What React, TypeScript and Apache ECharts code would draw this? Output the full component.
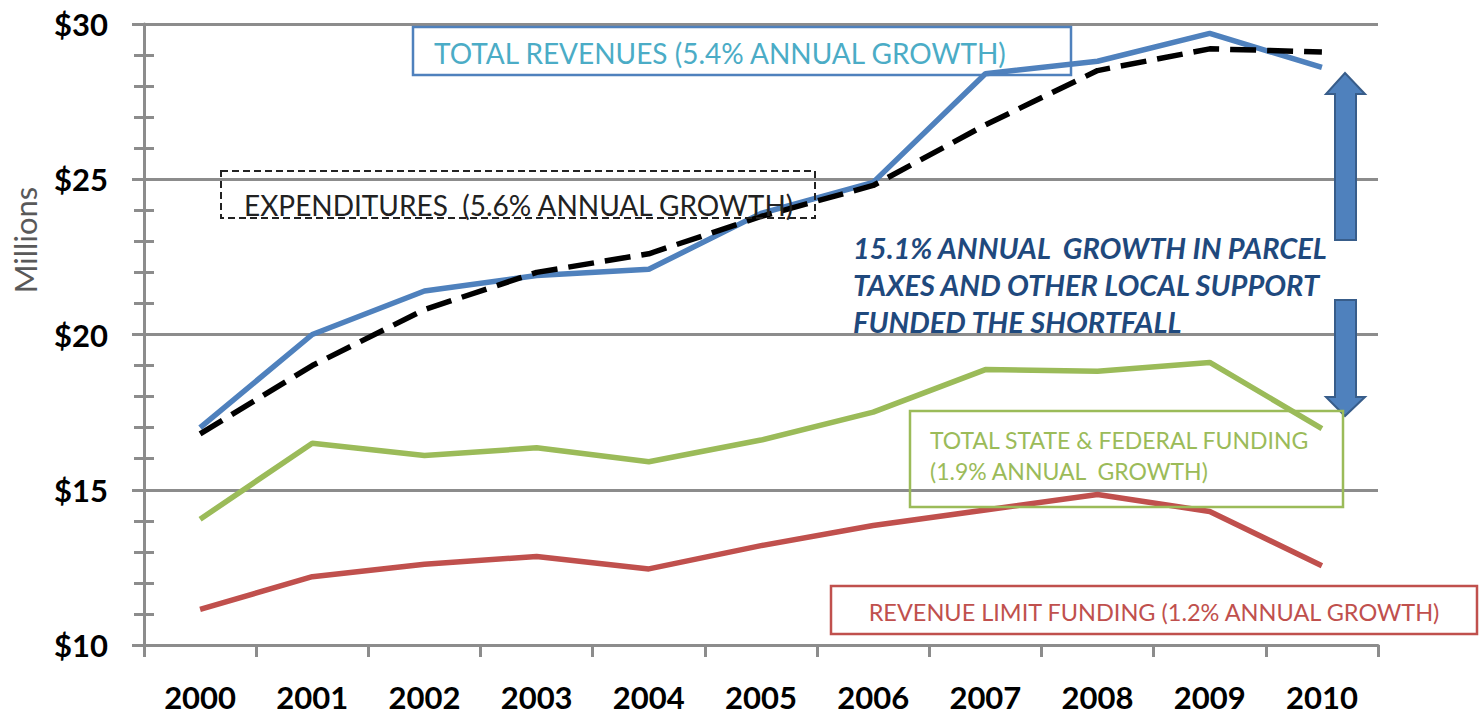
import React, { useEffect, useRef } from "react";
import * as echarts from "echarts";

const years = ["2000", "2001", "2002", "2003", "2004", "2005", "2006", "2007", "2008", "2009", "2010"];
const totalRevenues = [17.0, 20.0, 21.4, 21.9, 22.1, 23.9, 24.9, 28.4, 28.8, 29.7, 28.6];
const expenditures = [16.8, 19.0, 20.8, 22.0, 22.6, 23.8, 24.8, 26.75, 28.5, 29.2, 29.1];
const stateFederal = [14.05, 16.5, 16.1, 16.35, 15.9, 16.6, 17.5, 18.87, 18.82, 19.1, 16.97];
const revenueLimit = [11.15, 12.2, 12.6, 12.85, 12.45, 13.2, 13.85, 14.35, 14.85, 14.3, 12.55];

const FONT = "Lato, 'Open Sans', sans-serif";
const GRID_COLOR = "#8c8c8c";

export default function App() {
  const ref = useRef<HTMLDivElement>(null);
  useEffect(() => {
    if (!ref.current) return;
    const chart = echarts.init(ref.current, null, { renderer: "svg" });
    const axisCommon = {
      type: "value" as const,
      min: 10,
      max: 30,
      interval: 5,
    };
    chart.setOption({
      animation: false,
      backgroundColor: "#ffffff",
      grid: { left: 144, right: 102, top: 24, bottom: 79, containLabel: false },
      xAxis: {
        type: "category",
        data: years,
        boundaryGap: true,
        axisLine: { lineStyle: { color: GRID_COLOR, width: 3 } },
        axisTick: { show: true, length: 12, alignWithLabel: false, lineStyle: { color: GRID_COLOR, width: 3 } },
        axisLabel: { color: "#000", fontSize: 31, fontWeight: "bold", fontFamily: FONT, margin: 36 },
        splitLine: { show: false },
      },
      yAxis: [
        {
          ...axisCommon,
          axisLine: { show: true, lineStyle: { color: GRID_COLOR, width: 3 } },
          axisTick: { show: true, length: 12, lineStyle: { color: GRID_COLOR, width: 3 } },
          minorTick: { show: true, splitNumber: 5, length: 10, lineStyle: { color: GRID_COLOR, width: 3 } },
          axisLabel: { color: "#000", fontSize: 31, fontWeight: "bold", fontFamily: FONT, margin: 36, formatter: "${value}" },
          splitLine: { show: true, lineStyle: { color: GRID_COLOR, width: 3 } },
        },
        {
          ...axisCommon,
          position: "left",
          axisLine: { show: false },
          axisTick: { show: false, inside: true },
          minorTick: { show: true, splitNumber: 5, length: 10, lineStyle: { color: GRID_COLOR, width: 3 } },
          axisLabel: { show: false },
          splitLine: { show: false },
        },
      ],
      series: [
        {
          name: "Total Revenues",
          type: "line",
          data: totalRevenues,
          symbol: "none",
          lineStyle: { color: "#4F81BD", width: 5.5 },
          z: 3,
        },
        {
          name: "Expenditures",
          type: "line",
          data: expenditures,
          symbol: "none",
          lineStyle: { color: "#000000", width: 5.5, type: [26, 11] },
          z: 4,
        },
        {
          name: "State & Federal",
          type: "line",
          data: stateFederal,
          symbol: "none",
          lineStyle: { color: "#9BBB59", width: 5.5 },
          z: 3,
        },
        {
          name: "Revenue Limit",
          type: "line",
          data: revenueLimit,
          symbol: "none",
          lineStyle: { color: "#C0504D", width: 5.5 },
          z: 3,
        },
      ],
      graphic: [
        {
          type: "text",
          x: 25,
          y: 240,
          rotation: Math.PI / 2,
          style: { text: "Millions", fill: "#595959", font: `31px ${FONT}`, textAlign: "center", textVerticalAlign: "middle" },
        },
        // Total revenues box
        {
          type: "rect",
          shape: { x: 413, y: 27, width: 658, height: 48 },
          style: { fill: "none", stroke: "#4F81BD", lineWidth: 2.5 },
          z: 10,
        },
        {
          type: "text",
          x: 434,
          y: 53,
          style: { text: "TOTAL REVENUES (5.4% ANNUAL GROWTH)", fill: "#4BACC6", font: `28px ${FONT}`, textVerticalAlign: "middle" },
          z: 10,
        },
        // Expenditures box
        {
          type: "rect",
          shape: { x: 221, y: 171, width: 594, height: 47 },
          style: { fill: "none", stroke: "#222", lineWidth: 2, lineDash: [7, 4] },
          z: 10,
        },
        {
          type: "text",
          x: 244,
          y: 205,
          style: { text: "EXPENDITURES  (5.6% ANNUAL GROWTH)", fill: "#222", font: `28px ${FONT}`, textVerticalAlign: "middle" },
          z: 10,
        },
        // Shortfall annotation
        {
          type: "text",
          x: 853,
          y: 247,
          style: { text: "15.1% ANNUAL  GROWTH IN PARCEL", fill: "#1F497D", font: `italic bold 29px ${FONT}`, textVerticalAlign: "middle" },
          z: 10,
        },
        {
          type: "text",
          x: 853,
          y: 284,
          style: { text: "TAXES AND OTHER LOCAL SUPPORT", fill: "#1F497D", font: `italic bold 29px ${FONT}`, textVerticalAlign: "middle" },
          z: 10,
        },
        {
          type: "text",
          x: 853,
          y: 321,
          style: { text: "FUNDED THE SHORTFALL", fill: "#1F497D", font: `italic bold 29px ${FONT}`, textVerticalAlign: "middle" },
          z: 10,
        },
        // Arrows
        {
          type: "polygon",
          shape: {
            points: [
              [1345, 73], [1365, 94], [1356, 94], [1356, 240], [1335, 240], [1335, 94], [1326, 94],
            ],
          },
          style: { fill: "#4F81BD", stroke: "#385D8A", lineWidth: 2 },
          z: 10,
        },
        {
          type: "polygon",
          shape: {
            points: [
              [1335, 300], [1356, 300], [1356, 397], [1365, 397], [1345, 416], [1326, 397], [1335, 397],
            ],
          },
          style: { fill: "#4F81BD", stroke: "#385D8A", lineWidth: 2 },
          z: 10,
        },
        // State & federal box
        {
          type: "rect",
          shape: { x: 910, y: 411, width: 433, height: 96 },
          style: { fill: "none", stroke: "#9BBB59", lineWidth: 2.5 },
          z: 10,
        },
        {
          type: "text",
          x: 930,
          y: 440,
          style: { text: "TOTAL STATE & FEDERAL FUNDING", fill: "#9BBB59", font: `23px ${FONT}`, textVerticalAlign: "middle" },
          z: 10,
        },
        {
          type: "text",
          x: 930,
          y: 471,
          style: { text: "(1.9% ANNUAL  GROWTH)", fill: "#9BBB59", font: `23px ${FONT}`, textVerticalAlign: "middle" },
          z: 10,
        },
        // Revenue limit box
        {
          type: "rect",
          shape: { x: 831, y: 586, width: 646, height: 48 },
          style: { fill: "#ffffff", stroke: "#C0504D", lineWidth: 2.5 },
          z: 10,
        },
        {
          type: "text",
          x: 1154,
          y: 612,
          style: { text: "REVENUE LIMIT FUNDING (1.2% ANNUAL GROWTH)", fill: "#C0504D", font: `23.5px ${FONT}`, textAlign: "center", textVerticalAlign: "middle" },
          z: 10,
        },
      ],
    });
    return () => chart.dispose();
  }, []);
  return (
    <div
      ref={ref}
      style={{ position: "fixed", left: 0, top: 0, width: 1480, height: 724, background: "#fff" }}
    />
  );
}
